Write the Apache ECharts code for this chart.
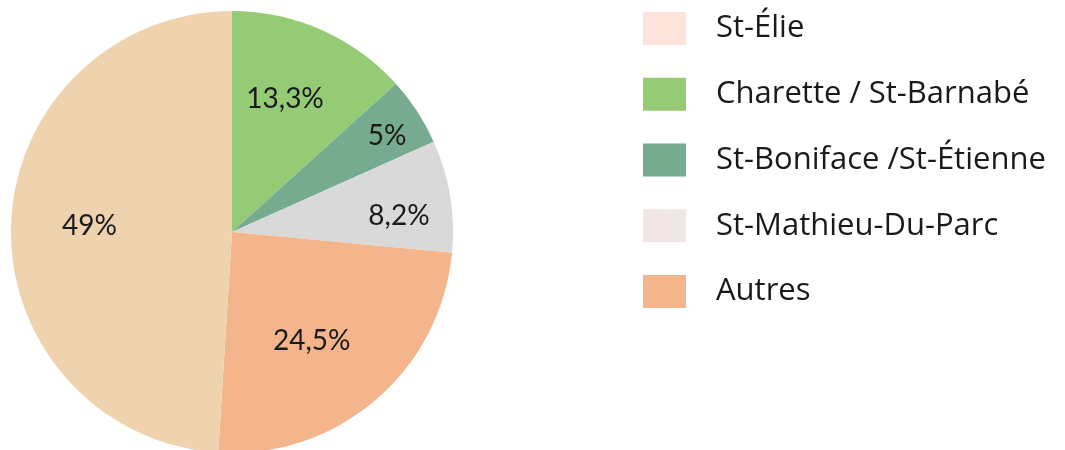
<!DOCTYPE html>
<html>
<head>
<meta charset="utf-8">
<script src="https://cdn.jsdelivr.net/npm/echarts@6/dist/echarts.min.js"></script>
<style>
  html, body { margin: 0; padding: 0; background: #fff; }
  #chart_pie { width: 1065px; height: 450px; }
</style>
</head>
<body>
<div id="chart_pie"></div>
<script>
// slices in drawing order (clockwise from the top)
const names = ['Charette / St-Barnabé', 'St-Boniface /St-Étienne', 'St-Mathieu-Du-Parc', 'Autres', 'St-Élie']
const values = [13.3, 5, 8.2, 24.5, 49]
const colors = ['#95cb75', '#76ab8f', '#d9d9d9', '#f4b58c', '#efd2ae']

// legend order and its swatch colours
const legendNames = ['St-Élie', 'Charette / St-Barnabé', 'St-Boniface /St-Étienne', 'St-Mathieu-Du-Parc', 'Autres']
const legendColors = ['#fde3da', '#95cb75', '#76ab8f', '#f0e6e6', '#f4b58c']

// nudges for the percentage labels (best-fit look)
const labelShift = [[7, -29], [60, -34], [55, 2], [6, 23], [-29, -2]]

const font = 'Lato, "Open Sans", sans-serif'

const chart = echarts.init(document.getElementById('chart_pie'))
chart.setOption({
  animation: false,
  legend: {
    orient: 'vertical',
    left: 643,
    top: 12,
    padding: 0,
    icon: 'rect',
    itemWidth: 43,
    itemHeight: 33,
    itemGap: 32.75,
    selectedMode: false,
    textStyle: {
      fontFamily: '"Open Sans", sans-serif',
      fontSize: 31,
      color: '#1a1a1a',
      padding: [16, 0, 0, 25]
    },
    data: legendNames.map((n, i) => ({ name: n, itemStyle: { color: legendColors[i] } }))
  },
  series: [
    {
      type: 'pie',
      center: [232, 232],
      radius: 221,
      startAngle: 90,
      clockwise: true,
      silent: true,
      itemStyle: { borderWidth: 0 },
      label: {
        position: 'inside',
        fontFamily: font,
        fontSize: 28,
        color: '#1a1a1a',
        formatter: p => String(p.value).replace('.', ',') + '%'
      },
      labelLine: { show: false },
      labelLayout: p => ({ dx: labelShift[p.dataIndex][0], dy: labelShift[p.dataIndex][1] }),
      data: names.map((n, i) => ({ name: n, value: values[i], itemStyle: { color: colors[i] } }))
    }
  ]
})
</script>
</body>
</html>
